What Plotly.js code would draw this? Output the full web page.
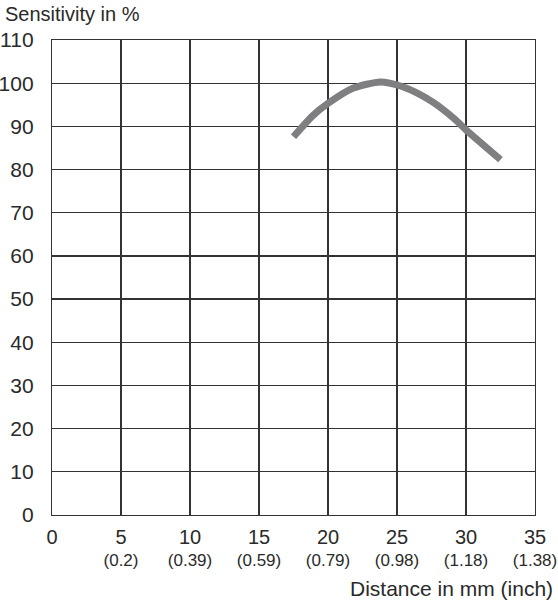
<!DOCTYPE html>
<html><head><meta charset="utf-8">
<script src="https://cdn.plot.ly/plotly-3.0.1.min.js"></script>
<style>body{margin:0;background:#fff}#chart{width:558px;height:600px}</style>
</head><body><div id="chart"></div>
<script>
const distanceMm = [17.5, 18.9, 20, 21.8, 23.8, 25.2, 26.4, 27.6, 29.1, 30, 32.5];
const sensitivity = [87.6, 92.5, 95.3, 98.8, 100.3, 99.4, 97.8, 95.6, 91.9, 89.2, 82.3];
const xTickVals = [0, 5, 10, 15, 20, 25, 30, 35];
const xTickMm = ["0", "5", "10", "15", "20", "25", "30", "35"];
const xTickInch = ["", "(0.2)", "(0.39)", "(0.59)", "(0.79)", "(0.98)", "(1.18)", "(1.38)"];
const yTickVals = [0, 10, 20, 30, 40, 50, 60, 70, 80, 90, 100, 110];

const fontFam = "Liberation Sans, Arial, sans-serif";
const txt = "#2a2a2a";
const grid = "#333";
Plotly.newPlot("chart", [
  {x: distanceMm, y: sensitivity, type: "scatter", mode: "lines",
   line: {color: "#7f7f81", width: 7, shape: "spline", smoothing: 0.7}},
  {x: [0, 35], y: [null, null], xaxis: "x2", type: "scatter", mode: "lines", hoverinfo: "skip"}
], {
  width: 558, height: 600,
  margin: {l: 52, r: 23, t: 40, b: 85},
  paper_bgcolor: "#fff", plot_bgcolor: "#fff",
  showlegend: false,
  font: {family: fontFam, color: txt, size: 20},
  xaxis: {range: [0, 35], tickvals: xTickVals, ticktext: xTickMm, showgrid: true,
    gridcolor: grid, gridwidth: 1.2, showline: true, linecolor: grid, linewidth: 1.2, mirror: true,
    zeroline: false, ticks: "", ticklabelstandoff: 4, tickfont: {size: 20, color: txt}, fixedrange: true},
  xaxis2: {range: [0, 35], overlaying: "x", anchor: "y", side: "bottom", tickvals: xTickVals, ticktext: xTickInch,
    showgrid: false, showline: false, zeroline: false, ticks: "", ticklabelstandoff: 33,
    tickfont: {size: 17, color: txt}, fixedrange: true},
  yaxis: {range: [0, 110], tickvals: yTickVals, showgrid: true,
    gridcolor: grid, gridwidth: 1.2, showline: true, linecolor: grid, linewidth: 1.2, mirror: true,
    zeroline: false, ticks: "", ticklabelstandoff: 13, tickfont: {size: 21, color: txt}, fixedrange: true},
  annotations: [
    {text: "Sensitivity in %", xref: "paper", yref: "paper", x: 0, y: 1, xanchor: "left", yanchor: "bottom",
     yshift: 13, xshift: -49, showarrow: false, font: {size: 20, color: txt, family: fontFam}},
    {text: "Distance in mm (inch)", xref: "paper", yref: "paper", x: 1, y: 0, xanchor: "right", yanchor: "top",
     yshift: -60, xshift: 20, showarrow: false, font: {size: 21, color: txt, family: fontFam}}
  ]
}, {displayModeBar: false, staticPlot: true});
</script></body></html>
